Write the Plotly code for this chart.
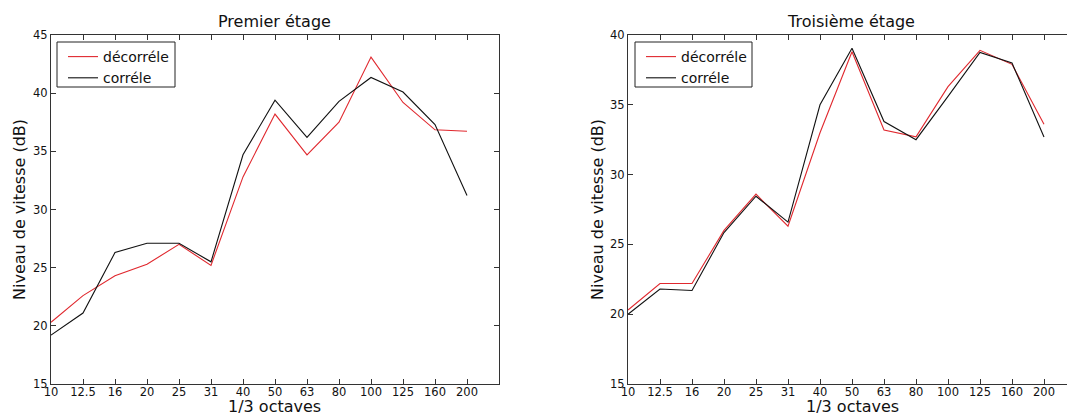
import plotly.graph_objects as go

bands = ["10", "12.5", "16", "20", "25", "31", "40", "50", "63", "80", "100", "125", "160", "200"]

p1_decorrele = [20.3, 22.6, 24.3, 25.3, 27.0, 25.2, 32.8, 38.2, 34.7, 37.5, 43.1, 39.2, 36.85, 36.73]
p1_correle = [19.2, 21.1, 26.3, 27.1, 27.1, 25.5, 34.7, 39.4, 36.2, 39.3, 41.35, 40.1, 37.3, 31.2]

p3_decorrele = [20.3, 22.2, 22.2, 26.0, 28.6, 26.3, 33.0, 38.8, 33.2, 32.7, 36.3, 38.9, 37.9, 33.6]
p3_correle = [20.0, 21.8, 21.7, 25.85, 28.45, 26.6, 35.0, 39.05, 33.8, 32.5, 35.6, 38.75, 38.0, 32.7]

titles = ["Premier étage", "Troisième étage"]
series_names = ["décorréle", "corréle"]
x_title = "1/3 octaves"
y_title = "Niveau de vitesse (dB)"
y_ticks_1 = [15, 20, 25, 30, 35, 40, 45]
y_ticks_3 = [15, 20, 25, 30, 35, 40]

W, H = 1067, 416
T, B = 35, 32
PH = H - T - B
RED = "#e0282e"
BLACK = "#111111"
FONT = "DejaVu Sans"
AX = "#333333"
TXT = "#111111"


def px(pix):
    return pix / W


def py(pix):
    return (H - B - pix) / PH


x = list(range(len(bands)))

fig = go.Figure()
fig.add_trace(go.Scatter(x=x, y=p1_decorrele, mode="lines", name=series_names[0],
                         line=dict(color=RED, width=1.1), xaxis="x", yaxis="y", legend="legend"))
fig.add_trace(go.Scatter(x=x, y=p1_correle, mode="lines", name=series_names[1],
                         line=dict(color=BLACK, width=1.1), xaxis="x", yaxis="y", legend="legend"))
fig.add_trace(go.Scatter(x=x, y=p3_decorrele, mode="lines", name=series_names[0],
                         line=dict(color=RED, width=1.1), xaxis="x2", yaxis="y2", legend="legend2"))
fig.add_trace(go.Scatter(x=x, y=p3_correle, mode="lines", name=series_names[1],
                         line=dict(color=BLACK, width=1.1), xaxis="x2", yaxis="y2", legend="legend2"))

l1, r1 = 51, 499
l2 = 628
spacing = (r1 - l1) / 14.0
r2_range = (W - l2) / spacing

common_x = dict(showline=True, linecolor=AX, linewidth=1, mirror="ticks", ticks="inside",
                ticklen=5, tickcolor=AX, tickmode="array", tickvals=x, ticktext=bands,
                showgrid=False, zeroline=False, tickfont=dict(family=FONT, size=11.5, color=TXT),
                ticklabelstandoff=-3, automargin=False)
common_y = dict(showline=True, linecolor=AX, linewidth=1, ticks="inside", ticklen=5, tickcolor=AX,
                showgrid=False, zeroline=False, tickfont=dict(family=FONT, size=11.5, color=TXT),
                automargin=False)

legend_style = dict(xref="paper", yref="paper", xanchor="left", yanchor="top",
                    borderwidth=0, bgcolor="rgba(0,0,0,0)",
                    font=dict(family=FONT, size=14, color=TXT), tracegroupgap=0, itemwidth=30)

fig.update_layout(
    width=W, height=H,
    margin=dict(l=0, r=0, t=T, b=B),
    paper_bgcolor="white", plot_bgcolor="white",
    font=dict(family=FONT, color=TXT),
    xaxis=dict(domain=[px(l1), px(r1)], range=[0, 14], anchor="y", **common_x),
    yaxis=dict(domain=[0, 1], range=[15, 45], tickvals=y_ticks_1, anchor="x", mirror="ticks", **common_y),
    xaxis2=dict(domain=[px(l2), 1.0], range=[0, r2_range], anchor="y2", **common_x),
    yaxis2=dict(domain=[0, 1], range=[15, 40], tickvals=y_ticks_3, anchor="x2", mirror=False, **common_y),
    legend=dict(x=px(63), y=py(41), **legend_style),
    legend2=dict(x=px(63 + 578), y=py(41), **legend_style),
    showlegend=True,
)

shapes = [
    dict(type="rect", xref="paper", yref="paper", x0=px(57), x1=px(175), y0=py(87), y1=py(42),
         line=dict(color="#222", width=1), fillcolor="white", layer="below"),
    dict(type="rect", xref="paper", yref="paper", x0=px(635), x1=px(752), y0=py(87), y1=py(42),
         line=dict(color="#222", width=1), fillcolor="white", layer="below"),
]

tf = dict(family=FONT, size=16, color=TXT)
ab = dict(xref="paper", yref="paper", showarrow=False, xanchor="center", yanchor="middle", font=tf)
annotations = [
    dict(text=titles[0], x=px(275), y=py(21), **ab),
    dict(text=titles[1], x=px(851), y=py(21), **ab),
    dict(text=x_title, x=px(275), y=py(406), **ab),
    dict(text=x_title, x=px(852), y=py(406), **ab),
    dict(text=y_title, x=px(19), y=py(210), textangle=-90, **ab),
    dict(text=y_title, x=px(597), y=py(210), textangle=-90, **ab),
]
fig.update_layout(annotations=annotations, shapes=shapes)

fig.write_html("out.html", config={"displayModeBar": False},
               post_script="document.body.style.margin='0';document.body.style.overflow='hidden';")
